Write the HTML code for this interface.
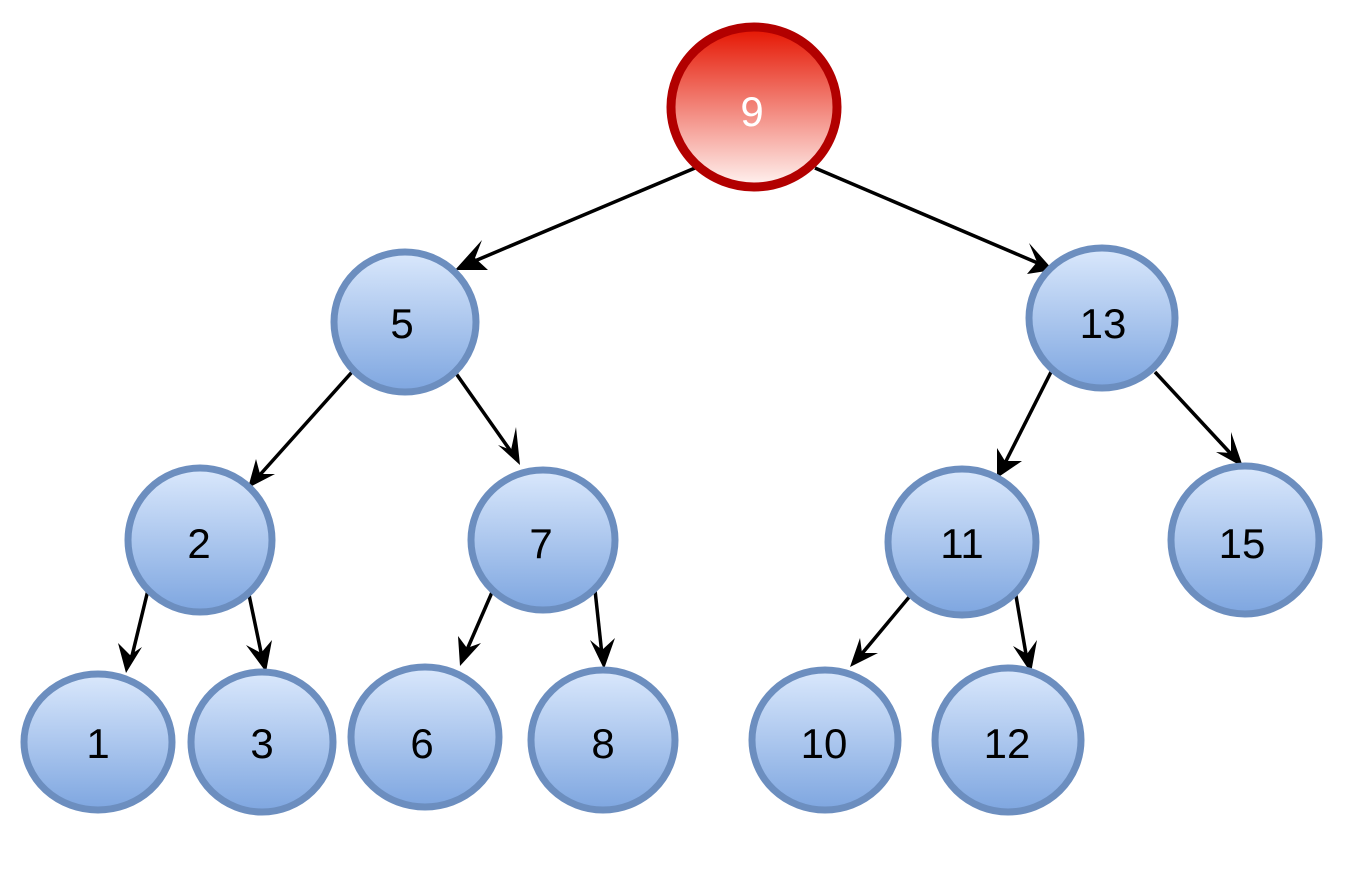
<!DOCTYPE html>
<html><head><style>html,body{margin:0;padding:0;background:#fff}svg{display:block}</style></head>
<body>
<svg width="1372" height="872" viewBox="0 0 1372 872" xmlns="http://www.w3.org/2000/svg">
<defs>
<linearGradient id="b" x1="0" y1="0" x2="0" y2="1"><stop offset="0" stop-color="#dae8fc"/><stop offset="1" stop-color="#7ea6e0"/></linearGradient>
<linearGradient id="r" x1="0" y1="0" x2="0" y2="1"><stop offset="0" stop-color="#e51400"/><stop offset="1" stop-color="#fff4f2"/></linearGradient>
<marker id="a" markerWidth="10" markerHeight="10" refX="8" refY="5" orient="auto" markerUnits="userSpaceOnUse" viewBox="0 0 10 10">
</marker>
</defs>
<g stroke="#000" stroke-width="3.5" fill="none">
<line x1="695" y1="168" x2="470" y2="263"/>
<line x1="815" y1="168" x2="1040" y2="264"/>
<line x1="352" y1="372" x2="258" y2="477"/>
<line x1="455" y1="372" x2="512" y2="453"/>
<line x1="1052" y1="370" x2="1004" y2="465"/>
<line x1="1155" y1="372" x2="1232" y2="455"/>
<line x1="148" y1="590" x2="131" y2="660"/>
<line x1="248" y1="590" x2="262" y2="657"/>
<line x1="493" y1="590" x2="466" y2="652"/>
<line x1="595" y1="590" x2="602" y2="655"/>
<line x1="915" y1="590" x2="860" y2="656"/>
<line x1="1015" y1="590" x2="1027" y2="660"/>
</g>
<g fill="#000">
<polygon points="455,270 482,240 475,258 488,270"/>
<polygon points="1053,270 1027,274 1037,262 1029,243"/>
<polygon points="248,488 256,459 260,474 275,474"/>
<polygon points="520,465 498,445 511,450 516,427"/>
<polygon points="997,478 997,448 1005,461 1022,461"/>
<polygon points="1243,467 1216,452 1231,453 1231,432"/>
<polygon points="126,673 118,643 130,655 142,647"/>
<polygon points="266,672 246,645 261,653 272,640"/>
<polygon points="460,666 458,636 467,648 481,643"/>
<polygon points="604,669 590,640 602,650 615,638"/>
<polygon points="850,667 860,638 862,653 878,653"/>
<polygon points="1031,673 1013,646 1027,654 1037,640"/>
</g>
<ellipse cx="754" cy="107" rx="83" ry="80" fill="url(#r)" stroke="#b20000" stroke-width="9"/>
<g fill="url(#b)" stroke="#6c8ebf" stroke-width="7">
<ellipse cx="405" cy="322" rx="71" ry="70"/>
<ellipse cx="1102" cy="318" rx="73" ry="70"/>
<ellipse cx="200" cy="540" rx="72" ry="72"/>
<ellipse cx="543" cy="540" rx="72" ry="70"/>
<ellipse cx="962" cy="542" rx="74" ry="73"/>
<ellipse cx="1245" cy="540" rx="74" ry="74"/>
<ellipse cx="98" cy="742" rx="74" ry="68"/>
<ellipse cx="262" cy="742" rx="71" ry="70"/>
<ellipse cx="425" cy="737" rx="74" ry="70"/>
<ellipse cx="603" cy="740" rx="72" ry="70"/>
<ellipse cx="825" cy="740" rx="73" ry="70"/>
<ellipse cx="1008" cy="740" rx="73" ry="72"/>
</g>
<g font-family="Liberation Sans, sans-serif" font-size="42" text-anchor="middle" fill="#000">
<text x="752" y="126" fill="#fff">9</text>
<text x="402" y="338">5</text>
<text x="1103" y="338">13</text>
<text x="199" y="558">2</text>
<text x="541" y="558">7</text>
<text x="962" y="558">11</text>
<text x="1242" y="558">15</text>
<text x="98" y="758">1</text>
<text x="262" y="758">3</text>
<text x="422" y="758">6</text>
<text x="603" y="758">8</text>
<text x="824" y="758">10</text>
<text x="1007" y="758">12</text>
</g>
</svg>
</body></html>
